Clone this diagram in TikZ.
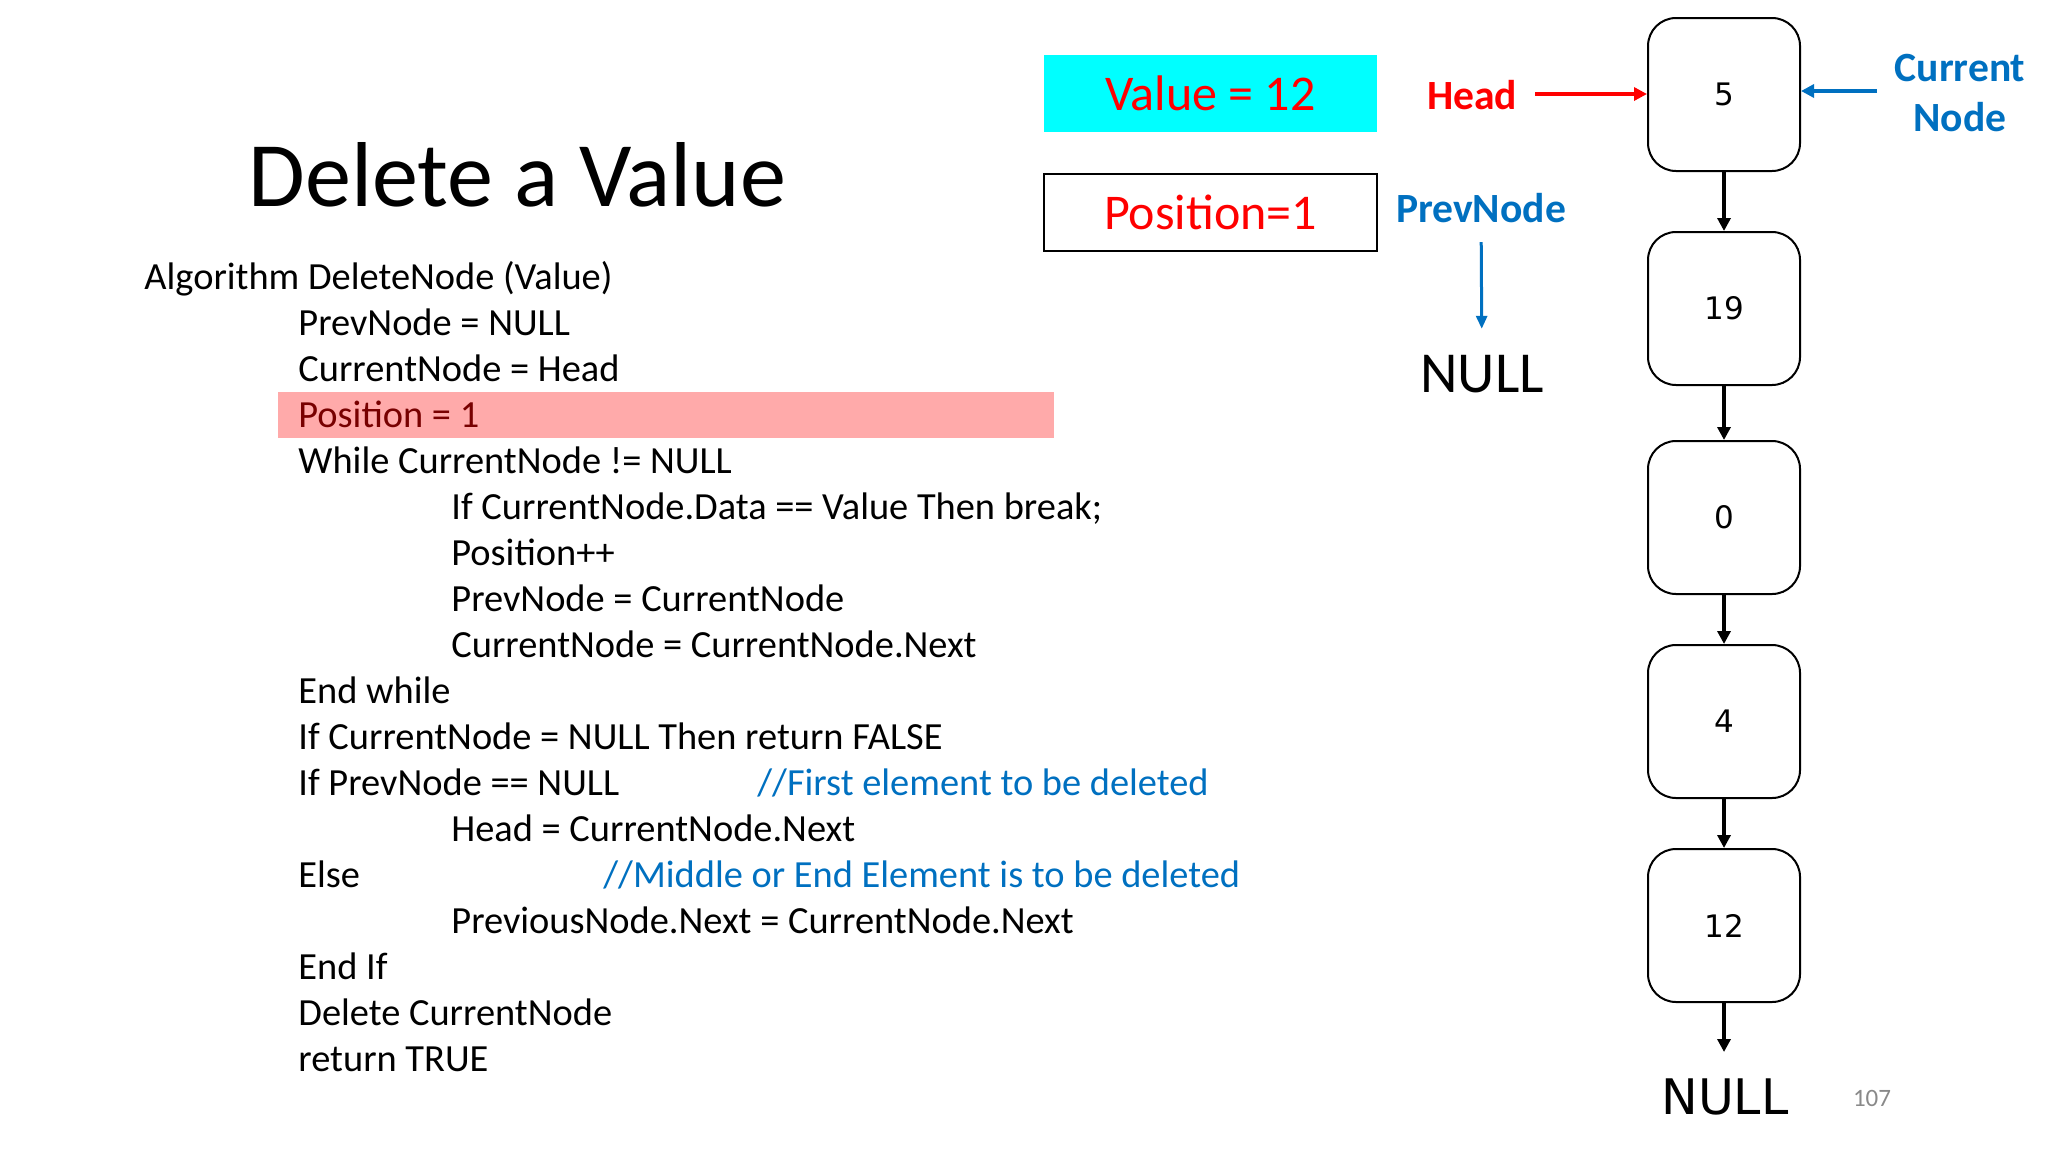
\documentclass[tikz,border=0pt]{standalone}
\usepackage{fontspec}
\setmainfont{Carlito}
\newfontfamily\tahoma{DejaVu Sans}
\usetikzlibrary{arrows.meta}
\definecolor{cyanbox}{RGB}{0,255,255}
\definecolor{pinkbox}{RGB}{255,170,170}
\definecolor{darkred}{RGB}{120,0,0}
\definecolor{cblue}{RGB}{0,112,192}
\definecolor{pgray}{RGB}{137,137,137}
\tikzset{
  code/.style={anchor=base west, inner sep=0pt, font=\fontsize{19.2}{23}\selectfont},
  comment/.style={code, text=cblue},
  listnode/.style={draw=black, line width=1pt, rounded corners=14pt, minimum width=76pt, minimum height=76.5pt, inner sep=0pt, font=\tahoma\fontsize{15.5}{18}\selectfont},
  link/.style={line width=1.9pt, -{Triangle[length=6.5pt,width=6.5pt]}},
  lbl/.style={inner sep=0pt, font=\bfseries\fontsize{20.8}{25}\selectfont},
}
\begin{document}
\begin{tikzpicture}[x=0.5pt,y=-0.5pt]
\useasboundingbox (0,0) rectangle (2048,1152);
% title
\node[anchor=base west, inner sep=0pt, font=\fontsize{46.1}{55}\selectfont] (title) at (248,206) {Delete a Value};
% highlight
\fill[pinkbox] (278,392) rectangle (1054,438);
% code
\def\lz{144}\def\lo{298}\def\lt{451}
\node[code] (c0) at (\lz,289) {Algorithm DeleteNode (Value)};
\node[code] (c1) at (\lo,335.05) {PrevNode = NULL};
\node[code] (c2) at (\lo,381.1) {CurrentNode = Head};
\node[code, text=darkred] (c3) at (\lo,427.15) {Position = 1};
\node[code] (c4) at (\lo,473.2) {While CurrentNode != NULL};
\node[code] (c5) at (\lt,519.25) {If CurrentNode.Data == Value Then break;};
\node[code] (c6) at (\lt,565.3) {Position++};
\node[code] (c7) at (\lt,611.35) {PrevNode = CurrentNode};
\node[code] (c8) at (\lt,657.4) {CurrentNode = CurrentNode.Next};
\node[code] (c9) at (\lo,703.45) {End while};
\node[code] (c10) at (\lo,749.5) {If CurrentNode = NULL Then return FALSE};
\node[code] (c11) at (\lo,795.55) {If PrevNode == NULL};
\node[comment] (m11) at (757,795.55) {//First element to be deleted};
\node[code] (c12) at (\lt,841.6) {Head = CurrentNode.Next};
\node[code] (c13) at (\lo,887.65) {Else};
\node[comment] (m13) at (603,887.65) {//Middle or End Element is to be deleted};
\node[code] (c14) at (\lt,933.7) {PreviousNode.Next = CurrentNode.Next};
\node[code] (c15) at (\lo,979.75) {End If};
\node[code] (c16) at (\lo,1025.8) {Delete CurrentNode};
\node[code] (c17) at (\lo,1071.85) {return TRUE};
% value / position boxes
\node[fill=cyanbox, minimum width=166.5pt, minimum height=38.5pt, inner sep=0pt, text=red, font=\fontsize{25}{30}\selectfont] (val) at (1210.5,93.5) {Value = 12};
\node[draw=black, line width=1pt, fill=white, minimum width=166.5pt, minimum height=38.5pt, inner sep=0pt, text=red, font=\fontsize{25}{30}\selectfont] (pos) at (1210.5,212.5) {Position=1};
% list
\node[listnode] (n5) at (1724,94.5) {5};
\node[listnode] (n19) at (1724,308.5) {19};
\node[listnode] (n0) at (1724,517.5) {0};
\node[listnode] (n4) at (1724,721.5) {4};
\node[listnode] (n12) at (1724,925.5) {12};
\node[inner sep=0pt, font=\tahoma\fontsize{24.5}{29}\selectfont] (null2) at (1725,1097) {NULL};
\draw[link] (n5) -- (n19);
\draw[link] (n19) -- (n0);
\draw[link] (n0) -- (n4);
\draw[link] (n4) -- (n12);
\draw[link] (n12.south) -- ++(0,49) coordinate (nullend);
% head
\node[lbl, text=red] (head) at (1472,95) {Head};
\draw[red, line width=1.7pt, -{Triangle[length=6.5pt,width=6.5pt]}, shorten <=9pt] (head.east |- 0,94) -- (n5.west |- 0,94);
% current node
\node[lbl, text=cblue, align=center, font=\bfseries\fontsize{20.8}{25}\selectfont] (cur) at (1960,93) {Current\\Node};
\draw[cblue, line width=1.7pt, -{Triangle[length=6.5pt,width=6.5pt]}] (1877,91) -- (n5.east |- 0,91);
% prevnode
\node[lbl, text=cblue] (prev) at (1481,208) {PrevNode};
\node[inner sep=0pt, font=\fontsize{29}{35}\selectfont] (null1) at (1482,374) {NULL};
\draw[cblue, line width=1.5pt, -{Triangle[length=6.5pt,width=5.5pt]}, shorten <=9.5pt, shorten >=13pt] (prev) -- (null1);
% page number
\node[inner sep=0pt, text=pgray, font=\fontsize{12.5}{15}\selectfont] (pg) at (1872,1098) {107};
\end{tikzpicture}
\end{document}
